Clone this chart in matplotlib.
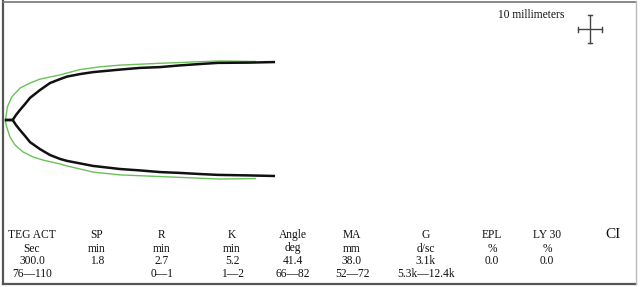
import matplotlib
matplotlib.use("Agg")
import matplotlib.pyplot as plt

# ---- data (time in min, amplitude in mm; upper = +, lower = -) ----
black_t = [0.0, 1.4, 2.0, 2.73, 3.64, 4.55, 6.36, 8.18, 10.0, 11.27, 13.64, 16.0,
           20.9, 24.5, 28.2, 31.8, 35.5, 38.7, 44.5, 49.1]
black_upper = [0.0, 0.0, 1.8, 3.6, 5.7, 7.9, 10.7, 13.2, 14.6, 15.5, 16.4, 17.1,
               18.0, 18.6, 18.9, 19.5, 20.0, 20.4, 20.5, 20.7]
black_lower = [0.0, 0.0, 1.8, 3.6, 5.7, 7.9, 10.4, 12.5, 13.9, 14.6, 15.5, 16.4,
               17.5, 18.0, 18.6, 18.9, 19.3, 19.6, 19.8, 20.0]

green_t_up = [0.0, 0.18, 0.42, 1.22, 2.73, 4.55, 6.36, 10.0, 13.6, 17.3, 20.9, 28.2, 39.1, 45.5]
green_upper = [0.0, 1.1, 4.6, 8.2, 11.4, 13.2, 14.6, 16.1, 18.0, 19.0, 19.6, 20.25, 21.1, 20.9]
green_t_lo = [0.0, 0.31, 0.91, 1.82, 3.27, 5.09, 6.9, 10.0, 11.27, 16.0, 20.9, 28.2, 39.1, 45.5]
green_lower = [0.0, 2.5, 6.1, 8.9, 11.4, 13.2, 14.3, 15.7, 16.4, 18.6, 19.6, 20.2, 21.1, 20.9]

headers = ["TEG ACT", "SP", "R", "K", "Angle", "MA", "G", "EPL", "LY 30", "CI"]
units = ["Sec", "min", "min", "min", "deg", "mm", "d/sc", "%", "%", ""]
values = ["300.0", "1.8", "2.7", "5.2", "41.4", "38.0", "3.1k", "0.0", "0.0", ""]
ranges = ["76\u2014110", "", "0\u20141", "1\u20142", "66\u201482", "52\u201472", "5.3k\u201412.4k", "", "", ""]
scale_label = "10 millimeters"

# ---- layout ----
W, H = 640, 287
fig = plt.figure(figsize=(W / 100, H / 100), dpi=100)
fig.patch.set_facecolor("white")
ax = fig.add_axes([0, 0, 1, 1])
px_per_min = 5.5
px_per_mm = 2.8
x0, yc = 5.0, 120.0
ax.set_xlim(-x0 / px_per_min, (W - x0) / px_per_min)
ax.set_ylim(-(H - yc) / px_per_mm, yc / px_per_mm)
ax.axis("off")

green = "#6cc05a"
ax.plot(green_t_up, green_upper, color=green, lw=1.0)
ax.plot(green_t_lo, [-v for v in green_lower], color=green, lw=1.0)
ax.plot(black_t, black_upper, color="#111111", lw=1.8, solid_capstyle="butt", solid_joinstyle="round")
ax.plot(black_t, [-v for v in black_lower], color="#111111", lw=1.8, solid_capstyle="butt", solid_joinstyle="round")

# frame
def fline(xs, ys, **kw):
    fig.add_artist(plt.Line2D([x / W for x in xs], [1 - y / H for y in ys],
                              transform=fig.transFigure, **kw))

fline([3, 3], [1, 284], color="#555555", lw=1.6)
fline([3, 636], [284, 284], color="#555555", lw=1.6)
fline([3, 636], [1.5, 1.5], color="#777777", lw=1.2)
fline([636, 636], [1, 284], color="#bbbbbb", lw=1.0)

# scale cross (10 mm)
cross_c = "#444444"
cx, cy = 590, 29
fline([cx, cx], [15, 43], color=cross_c, lw=1.0)
fline([578, 602], [cy, cy], color=cross_c, lw=1.0)
for yy in (15, 43):
    fline([cx - 2, cx + 2], [yy, yy], color=cross_c, lw=1.0)
for xx in (578, 602):
    fline([xx, xx], [cy - 2.5, cy + 2.5], color=cross_c, lw=1.0)
fig.text(531 / W, 1 - 15 / H, scale_label, ha="center", va="center", fontsize=8.3,
         family="Liberation Serif", color="#111111")

# table
col_x = [32, 97, 162, 232, 293, 352, 426, 492, 547, 613]
row_y = [235, 248.5, 261.5, 274]
for i, x in enumerate(col_x):
    rows = [headers[i], units[i], values[i], ranges[i]]
    for j, txt in enumerate(rows):
        if not txt:
            continue
        fs = 11 if headers[i] == "CI" and j == 0 else 8.3
        fig.text(x / W, 1 - row_y[j] / H, txt, ha="center", va="center", fontsize=fs,
                 family="Liberation Serif", color="#111111")

fig.savefig("out.png", dpi=100, facecolor="white")
